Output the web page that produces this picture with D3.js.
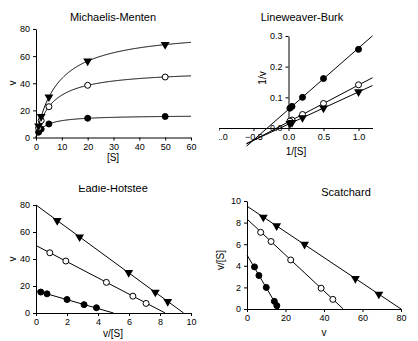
<!DOCTYPE html>
<html><head><meta charset="utf-8">
<script src="https://cdn.jsdelivr.net/npm/d3@7"></script>
<style>
body{margin:0;background:#fff}
svg text{font-family:"Liberation Sans",Arial,sans-serif;fill:#000}
</style>
</head><body>
<svg id="chart" width="418" height="341"></svg>
<script>
// Substrate concentrations and measured initial velocities for three enzymes
const substrate = [1, 2, 5, 20, 50];
const vFilled = [3.9, 6.2, 10.0, 14.2, 15.5];
const vOpen = [7.1, 12.5, 22.7, 38.5, 44.6];
const vTriangle = [8.5, 15.4, 29.9, 56.3, 68.5];
const seriesKeys = ["filled", "open", "triangle"];
// Fitted Michaelis-Menten parameters per series
const vmaxFit = [16.5, 50, 80];
const kmFit = [3.3, 6.0, 8.4];

// Tick labels for each panel
const mmXTicks = [0, 10, 20, 30, 40, 50, 60];
const mmYTicks = [0, 20, 40, 60, 80];
const lbXTicks = [-1.0, -0.5, 0.0, 0.5, 1.0];
const lbYTicks = [0.0, 0.1, 0.2, 0.3];
const ehXTicks = [0, 2, 4, 6, 8, 10];
const ehYTicks = [0, 20, 40, 60, 80];
const scXTicks = [0, 20, 40, 60, 80];
const scYTicks = [0, 2, 4, 6, 8, 10];

const svg = d3.select("#chart");
const velocities = [vFilled, vOpen, vTriangle];

function marker(g, key, x, y) {
  if (key === "triangle") {
    g.append("path")
      .attr("d", d3.symbol().type(d3.symbolTriangle).size(34)())
      .attr("transform", `translate(${x},${y}) rotate(180)`)
      .attr("fill", "#000");
  } else {
    g.append("circle").attr("cx", x).attr("cy", y).attr("r", 3)
      .attr("fill", key === "filled" ? "#000" : "#fff")
      .attr("stroke", "#000").attr("stroke-width", 1);
  }
}

function styleAxis(g) {
  g.selectAll("path.domain").attr("stroke", "#000");
  g.selectAll(".tick line").attr("stroke", "#000");
  g.selectAll(".tick text").attr("font-size", 9).attr("font-family", "Liberation Sans, Arial, sans-serif");
}

function title(text, x, y) {
  return svg.append("text").attr("x", x).attr("y", y).attr("text-anchor", "middle")
    .attr("font-size", 11).text(text);
}
function xLabel(text, x, y) {
  svg.append("text").attr("x", x).attr("y", y).attr("text-anchor", "middle")
    .attr("font-size", 10).text(text);
}
function yLabel(text, x, y) {
  svg.append("text").attr("transform", `translate(${x},${y}) rotate(-90)`)
    .attr("text-anchor", "middle").attr("font-size", 10).text(text);
}

const line = d3.line();

// ---- Michaelis-Menten: v vs [S] ----
{
  const x = d3.scaleLinear().domain([0, 60]).range([36, 191]);
  const y = d3.scaleLinear().domain([0, 80]).range([137.5, 29]);
  svg.append("g").attr("transform", `translate(0,${y(0)})`)
    .call(d3.axisBottom(x).tickValues(mmXTicks).tickSize(3).tickSizeOuter(0).tickFormat(d3.format("d")))
    .call(styleAxis);
  svg.append("g").attr("transform", `translate(${x(0)},0)`)
    .call(d3.axisLeft(y).tickValues(mmYTicks).tickSize(3).tickSizeOuter(0).tickFormat(d3.format("d")))
    .call(styleAxis);
  const g = svg.append("g");
  seriesKeys.forEach((k, i) => {
    const s = d3.range(0, 60.01, 0.25);
    g.append("path")
      .attr("d", line(s.map(c => [x(c), y(vmaxFit[i] * c / (kmFit[i] + c))])))
      .attr("fill", "none").attr("stroke", "#000").attr("stroke-width", 1);
    substrate.forEach((c, j) => marker(g, k, x(c), y(velocities[i][j])));
  });
  title("Michaelis-Menten", 113, 21);
  xLabel("[S]", 113, 161);
  yLabel("v", 16, 83);
}

// ---- Lineweaver-Burk: 1/v vs 1/[S] ----
{
  const x = d3.scaleLinear().domain([-1.0, 1.2]).range([218.5, 372.5]);
  const y = d3.scaleLinear().domain([0, 0.3]).range([128, 36]);
  const clip = svg.append("clipPath").attr("id", "lbclip");
  clip.append("rect").attr("x", 219).attr("y", 0).attr("width", 199).attr("height", 170);
  svg.append("g").attr("clip-path", "url(#lbclip)")
    .attr("transform", `translate(0,${y(0)})`)
    .call(d3.axisBottom(x).tickValues(lbXTicks).tickSize(3).tickSizeOuter(0).tickFormat(d3.format(".1f")))
    .call(styleAxis);
  svg.append("g").attr("transform", `translate(${x(0)},0)`)
    .call(d3.axisLeft(y).tickValues(lbYTicks).tickSize(3).tickSizeOuter(0).tickFormat(d3.format(".1f")))
    .call(styleAxis);
  const g = svg.append("g");
  seriesKeys.forEach((k, i) => {
    const ends = [-0.6, 1.2];
    g.append("path")
      .attr("d", line(ends.map(r => [x(r), y(1 / vmaxFit[i] + kmFit[i] / vmaxFit[i] * r)])))
      .attr("fill", "none").attr("stroke", "#000").attr("stroke-width", 1);
    substrate.forEach((c, j) => marker(g, k, x(1 / c), y(1 / velocities[i][j])));
  });
  title("Lineweaver-Burk", 302, 21);
  xLabel("1/[S]", 296, 155);
  yLabel("1/v", 266, 78);
}

// ---- Eadie-Hofstee: v vs v/[S] ----
{
  const x = d3.scaleLinear().domain([0, 10]).range([36, 191]);
  const y = d3.scaleLinear().domain([0, 80]).range([313, 205]);
  svg.append("g").attr("transform", `translate(0,${y(0)})`)
    .call(d3.axisBottom(x).tickValues(ehXTicks).tickSize(3).tickSizeOuter(0).tickFormat(d3.format("d")))
    .call(styleAxis);
  svg.append("g").attr("transform", `translate(${x(0)},0)`)
    .call(d3.axisLeft(y).tickValues(ehYTicks).tickSize(3).tickSizeOuter(0).tickFormat(d3.format("d")))
    .call(styleAxis);
  const g = svg.append("g");
  seriesKeys.forEach((k, i) => {
    const ends = [0, vmaxFit[i] / kmFit[i]];
    g.append("path")
      .attr("d", line(ends.map(r => [x(r), y(vmaxFit[i] - kmFit[i] * r)])))
      .attr("fill", "none").attr("stroke", "#000").attr("stroke-width", 1);
    substrate.forEach((c, j) => marker(g, k, x(velocities[i][j] / c), y(velocities[i][j])));
  });
  const clip = svg.append("clipPath").attr("id", "ehclip");
  clip.append("rect").attr("x", 0).attr("y", 185).attr("width", 209).attr("height", 20);
  title("Eadie-Hofstee", 113, 192).attr("clip-path", "url(#ehclip)");
  xLabel("v/[S]", 113, 337);
  yLabel("v", 16, 259);
}

// ---- Scatchard: v/[S] vs v ----
{
  const x = d3.scaleLinear().domain([0, 80]).range([247, 401]);
  const y = d3.scaleLinear().domain([0, 10]).range([309, 201]);
  svg.append("g").attr("transform", `translate(0,${y(0)})`)
    .call(d3.axisBottom(x).tickValues(scXTicks).tickSize(3).tickSizeOuter(0).tickFormat(d3.format("d")))
    .call(styleAxis);
  svg.append("g").attr("transform", `translate(${x(0)},0)`)
    .call(d3.axisLeft(y).tickValues(scYTicks).tickSize(3).tickSizeOuter(0).tickFormat(d3.format("d")))
    .call(styleAxis);
  const g = svg.append("g");
  seriesKeys.forEach((k, i) => {
    const ends = [0, vmaxFit[i]];
    g.append("path")
      .attr("d", line(ends.map(v => [x(v), y((vmaxFit[i] - v) / kmFit[i])])))
      .attr("fill", "none").attr("stroke", "#000").attr("stroke-width", 1);
    substrate.forEach((c, j) => marker(g, k, x(velocities[i][j]), y(velocities[i][j] / c)));
  });
  title("Scatchard", 346, 196);
  xLabel("v", 324, 336);
  yLabel("v/[S]", 224, 260);
}
</script>
</body></html>
